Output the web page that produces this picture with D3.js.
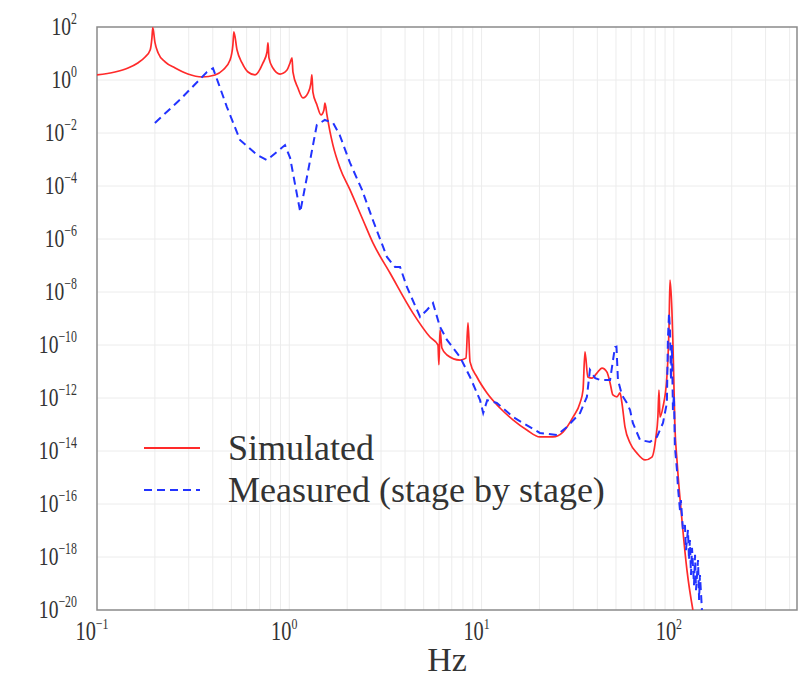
<!DOCTYPE html>
<html>
<head>
<meta charset="utf-8">
<script src="https://cdn.jsdelivr.net/npm/d3@7"></script>
<style>
  body { margin: 0; background: #fff; }
  text { font-family: "Liberation Serif", "Times New Roman", serif; fill: #333; }
</style>
</head>
<body>
<svg id="chart"></svg>
<script>
// simulated response (Hz, magnitude)
const simFreq = [0.1, 0.124, 0.145, 0.163, 0.178, 0.189, 0.193, 0.195, 0.2, 0.208,
  0.226, 0.255, 0.297, 0.352, 0.411, 0.452, 0.492, 0.509, 0.515, 0.535,
  0.568, 0.61, 0.664, 0.73, 0.766, 0.775, 0.784, 0.822, 0.895, 0.973,
  1.009, 1.033, 1.045, 1.109, 1.178, 1.25, 1.296, 1.311, 1.327, 1.393,
  1.462, 1.514, 1.533, 1.57, 1.629, 1.687, 1.835, 2.07, 2.417, 2.723,
  3.341, 4.397, 5.393, 5.934, 6.0, 6.08, 6.22, 6.61, 7.73, 8.3,
  8.5, 8.71, 9.46, 10.67, 12.47, 14.56, 17.2, 20.1, 23.5, 26.5,
  29.9, 32.5, 33.7, 34.5, 35.7, 37.5, 39.8, 42.3, 44.9, 46.6,
  48.2, 50.6, 52.5, 53.7, 55.7, 59.2, 64.3, 70.8, 76.9, 80.7,
  82.6, 83.7, 84.7, 87.8, 92.0, 94.4, 95.5, 97.7, 98.9, 101.3,
  103.8, 110.2, 117.0, 125.6];
const simMag = [1.55, 2.0, 2.84, 4.4, 7.4, 13.5, 38, 95, 27, 10.5,
  4.8, 2.84, 1.68, 1.3, 1.55, 2.38, 5.7, 21, 65, 13.5,
  4.4, 2.0, 1.55, 4.4, 11.4, 25, 6.8, 2.84, 1.68, 2.38,
  4.4, 6.8, 2.0, 0.5, 0.21, 0.32, 0.77, 1.55, 0.35, 0.114,
  0.048, 0.074, 0.135, 0.048, 0.011, 3.5e-3, 4.8e-4, 7.1e-5, 5.2e-6, 7.1e-7,
  5.2e-8, 1.6e-9, 2.0e-10, 1e-10, 1.8e-11, 3.7e-10, 7.7e-11, 4.2e-11, 2.7e-11, 3.2e-11,
  6.8e-10, 2.3e-11, 6.2e-12, 1.55e-12, 4.2e-13, 1.5e-13, 6.2e-14, 3.4e-14, 3.4e-14, 5.2e-14,
  1.9e-13, 6.5e-13, 2.0e-12, 5.5e-11, 6.2e-12, 5.6e-12, 8.7e-12, 1.35e-11, 9.5e-12, 3.7e-12,
  1.3e-12, 1.1e-12, 1.55e-12, 6.5e-13, 8.1e-14, 2.0e-14, 8.3e-15, 4.6e-15, 5.9e-15, 3.4e-14,
  1.9e-13, 2.0e-12, 1.9e-13, 4.6e-13, 6.2e-12, 4.8e-10, 2.8e-8, 2.1e-9, 1.2e-10, 8.1e-14,
  4.6e-15, 2.5e-17, 3.2e-19, 1e-20];

// measured, stage by stage (Hz, magnitude)
const measFreq = [0.2, 0.27, 0.373, 0.401, 0.426, 0.474, 0.554, 0.679, 0.766, 0.95,
  1.01, 1.14, 1.25, 1.39, 1.53, 1.69, 1.83, 2.07, 2.39, 2.72,
  3.22, 3.55, 3.77, 4.09, 4.79, 5.2, 5.59, 6.08, 6.61, 7.73,
  8.71, 9.82, 10.2, 10.7, 12.0, 14.6, 20.1, 24.7, 27.8, 32.5,
  35.3, 36.6, 39.0, 41.3, 46.6, 49.4, 50.3, 51.2, 53.7, 57.0,
  59.2, 61.2, 66.7, 75.1, 81.7, 87.8, 92.0, 93.1, 94.4, 95.5,
  96.6, 97.7, 98.9, 100.1, 101.3, 103.8, 105.0, 107.6, 108.8, 111.5,
  114.2, 115.6, 118.4, 119.9, 121.2, 122.8, 124.3, 127.3, 128.9, 130.4,
  133.6, 135.3, 136.7, 140.0];
const measMag = [0.024, 0.18, 2.0, 2.8, 0.83, 0.095, 5.5e-3, 1.5e-3, 9.5e-4, 3.5e-3,
  1.15e-3, 1.05e-5, 3.4e-4, 0.02, 0.031, 0.024, 8.3e-3, 7.4e-4, 7.1e-5, 5.2e-6,
  2.1e-7, 8.7e-8, 8.7e-8, 1.55e-8, 1.15e-9, 2.1e-9, 3.8e-9, 4.8e-10, 1.55e-10, 3.5e-11,
  6.2e-12, 8.3e-13, 2.7e-13, 8.3e-13, 6.5e-13, 1.9e-13, 4.8e-14, 4.0e-14, 8.1e-14, 2.7e-13,
  1.1e-12, 1.15e-11, 5.6e-12, 4.8e-12, 4.8e-12, 8.3e-11, 8.7e-11, 4.8e-12, 1.3e-12, 6.5e-13,
  3.5e-13, 1.15e-13, 2.6e-14, 2.2e-14, 3.4e-14, 1.15e-13, 6.5e-13, 1.55e-10, 1.6e-9, 3.7e-10,
  4.8e-12, 1e-10, 3.5e-13, 1.3e-12, 1.4e-14, 1.9e-15, 4.4e-16, 5.9e-17, 1.4e-16, 1.05e-17,
  1.6e-17, 1.8e-18, 1.05e-17, 7.7e-19, 4.4e-18, 2.1e-19, 2.2e-18, 8.7e-20, 1.2e-18, 5.6e-20,
  7.7e-19, 2.4e-20, 2.1e-19, 1e-20];

const xTickExps = [-1, 0, 1, 2];
const yTickExps = [2, 0, -2, -4, -6, -8, -10, -12, -14, -16, -18, -20];
const seriesNames = ["Simulated", "Measured (stage by stage)"];

const width = 812;
const height = 677;
const margin = { top: 27, right: 15, bottom: 67, left: 97 };

const svg = d3.select("#chart")
  .attr("width", width)
  .attr("height", height);

const x = d3.scaleLog()
  .domain([0.1, 437])
  .range([margin.left, width - margin.right]);

const y = d3.scaleLog()
  .domain([1e-20, 1e2])
  .range([height - margin.bottom, margin.top]);

// grid
svg.append("g")
  .selectAll("line")
  .data(x.ticks().filter(d => d > 0.1))
  .join("line")
  .attr("x1", d => x(d)).attr("x2", d => x(d))
  .attr("y1", margin.top).attr("y2", height - margin.bottom)
  .attr("stroke", "#ececec")
  .attr("stroke-width", 1);

svg.append("g")
  .selectAll("line")
  .data(yTickExps.slice(1, -1))
  .join("line")
  .attr("x1", margin.left).attr("x2", width - margin.right)
  .attr("y1", d => y(Math.pow(10, d))).attr("y2", d => y(Math.pow(10, d)))
  .attr("stroke", "#ececec")
  .attr("stroke-width", 1);

// frame
svg.append("rect")
  .attr("x", margin.left)
  .attr("y", margin.top)
  .attr("width", width - margin.left - margin.right)
  .attr("height", height - margin.top - margin.bottom)
  .attr("fill", "none")
  .attr("stroke", "#8a8a8a")
  .attr("stroke-width", 1.5);

// tick labels
const xLab = svg.append("g").selectAll("text")
  .data(xTickExps)
  .join("text")
  .attr("transform", d => `translate(${x(Math.pow(10, d)) - 5},640) scale(0.85,1.1)`)
  .attr("text-anchor", "middle")
  .attr("font-size", 24);
xLab.append("tspan").text("10");
xLab.append("tspan").attr("dy", -10).attr("font-size", 14).text(d => d < 0 ? "\u2212" + (-d) : d);

const yLab = svg.append("g").selectAll("text")
  .data(yTickExps)
  .join("text")
  .attr("transform", d => `translate(77,${y(Math.pow(10, d)) + 8}) scale(0.85,1.12)`)
  .attr("text-anchor", "end")
  .attr("font-size", 23);
yLab.append("tspan").text("10");
yLab.append("tspan").attr("dy", -10).attr("font-size", 14).text(d => d < 0 ? "\u2212" + (-d) : d);

svg.append("text")
  .attr("x", 447)
  .attr("y", 671)
  .attr("text-anchor", "middle")
  .attr("font-size", 34)
  .attr("fill", "#222")
  .text("Hz");

// curves
svg.append("clipPath").attr("id", "plot-clip")
  .append("rect")
  .attr("x", margin.left).attr("y", margin.top)
  .attr("width", width - margin.left - margin.right)
  .attr("height", height - margin.top - margin.bottom);

const line = d3.line()
  .x(d => x(d[0]))
  .y(d => y(d[1]));

const plot = svg.append("g").attr("clip-path", "url(#plot-clip)");

plot.append("path")
  .datum(d3.zip(simFreq, simMag))
  .attr("fill", "none")
  .attr("stroke", "#ff2a2a")
  .attr("stroke-width", 1.7)
  .attr("stroke-linejoin", "round")
  .attr("d", line.curve(d3.curveMonotoneX));

plot.append("path")
  .datum(d3.zip(measFreq, measMag))
  .attr("fill", "none")
  .attr("stroke", "#2233ff")
  .attr("stroke-width", 2)
  .attr("stroke-dasharray", "8,5")
  .attr("d", line.curve(d3.curveLinear));

// legend
const legend = svg.append("g");
legend.append("line")
  .attr("x1", 144).attr("x2", 200).attr("y1", 448).attr("y2", 448)
  .attr("stroke", "#ff2a2a").attr("stroke-width", 1.8);
legend.append("line")
  .attr("x1", 144).attr("x2", 200).attr("y1", 490).attr("y2", 490)
  .attr("stroke", "#2233ff").attr("stroke-width", 2)
  .attr("stroke-dasharray", "8,5");
legend.selectAll("text")
  .data(seriesNames)
  .join("text")
  .attr("x", 228)
  .attr("y", (d, i) => 460 + i * 42)
  .attr("font-size", 36)
  .attr("fill", "#222")
  .text(d => d);
</script>
</body>
</html>
